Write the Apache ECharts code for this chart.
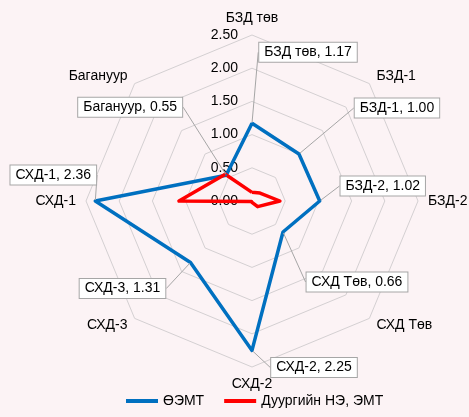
<!DOCTYPE html>
<html>
<head>
<meta charset="utf-8">
<script src="https://cdn.jsdelivr.net/npm/echarts@6/dist/echarts.min.js"></script>
<style>
  html, body { margin: 0; padding: 0; background: #fcf3f5; }
  #main { width: 469px; height: 417px; }
</style>
</head>
<body>
<div id="main"></div>
<script>
// categories clockwise from the top
var categories = ['БЗД төв', 'БЗД-1', 'БЗД-2', 'СХД Төв', 'СХД-2', 'СХД-3', 'СХД-1', 'Багануур'];
var seriesNames = ['ӨЭМТ', 'Дуургийн НЭ, ЭМТ'];
var valuesOEMT = [1.17, 1.00, 1.02, 0.66, 2.25, 1.31, 2.36, 0.55];
var valuesDuureg = [0.13, 0.17, 0.42, 0.12, 0.02, 0.01, 1.10, 0.57];
var tickMax = 2.5;
var tickStep = 0.5;

// where each data label box sits relative to its point (same order as categories)
var labelOffsets = [[56, -71], [98, -46], [63, -15], [74, 50], [62, 17], [-68, 26], [-42, -26], [-96, -68]];

var font = "'Liberation Sans', Arial, sans-serif";

// echarts lays indicators out counterclockwise, so reorder
var order = [0, 7, 6, 5, 4, 3, 2, 1];
function reorder(arr) {
	return order.map(function(i) { return arr[i]; });
}

var indicator = reorder(categories).map(function(name, k) {
	var item = {
		name: name,
		min: 0,
		max: tickMax,
		axisLine: { show: false, lineStyle: { color: 'rgba(0,0,0,0)' } }
	};
	if (k === 0) {
		item.axisLabel = { show: true };
	}
	return item;
});

var myChart = echarts.init(document.getElementById('main'));
var option = {
	backgroundColor: '#fcf3f5',
	textStyle: { fontFamily: font },
	legend: {
		bottom: 4,
		left: 121,
		icon: 'rect',
		itemWidth: 32,
		itemHeight: 4,
		itemGap: 20,
		textStyle: { fontSize: 14, color: '#000', fontFamily: font },
		data: seriesNames
	},
	radar: {
		center: [252, 201],
		radius: 166,
		startAngle: 90,
		shape: 'polygon',
		splitNumber: Math.round(tickMax / tickStep),
		nameGap: 10,
		axisName: { color: '#000', fontSize: 14, fontFamily: font },
		axisLine: { show: false, lineStyle: { color: 'rgba(0,0,0,0)' } },
		axisTick: { show: false },
		axisLabel: {
			show: false,
			color: '#000',
			fontSize: 14,
			fontFamily: font,
			margin: 14,
			formatter: function(v) { return v.toFixed(2); }
		},
		splitLine: { lineStyle: { color: '#d4d0d2', width: 1 } },
		splitArea: { show: false },
		indicator: indicator
	},
	series: [{
		type: 'radar',
		symbol: 'circle',
		symbolSize: 2,
		lineStyle: { color: '#0070C0', width: 3.5 },
		itemStyle: { color: '#0070C0' },
		label: {
			show: true,
			position: 'inside',
			color: '#000',
			fontSize: 14,
			fontFamily: font,
			backgroundColor: '#fff',
			borderColor: '#a6a6a6',
			borderWidth: 1,
			padding: [3, 5, 2, 5],
			formatter: function(p) {
				var idx = valuesOEMT.indexOf(p.value);
				return categories[idx] + ', ' + p.value.toFixed(2);
			}
		},
		labelLine: { show: true, lineStyle: { color: '#a6a6a6', width: 1 } },
		labelLayout: function(p) {
			var idx = categories.indexOf(p.text.split(',')[0]);
			if (idx < 0) return {};
			return { dx: labelOffsets[idx][0], dy: labelOffsets[idx][1] };
		},
		data: [{ name: seriesNames[0], value: reorder(valuesOEMT) }]
	}, {
		type: 'radar',
		symbol: 'none',
		lineStyle: { color: '#ff0000', width: 3.5 },
		itemStyle: { color: '#ff0000' },
		data: [{ name: seriesNames[1], value: reorder(valuesDuureg) }]
	}]
};
myChart.setOption(option);
</script>
</body>
</html>
